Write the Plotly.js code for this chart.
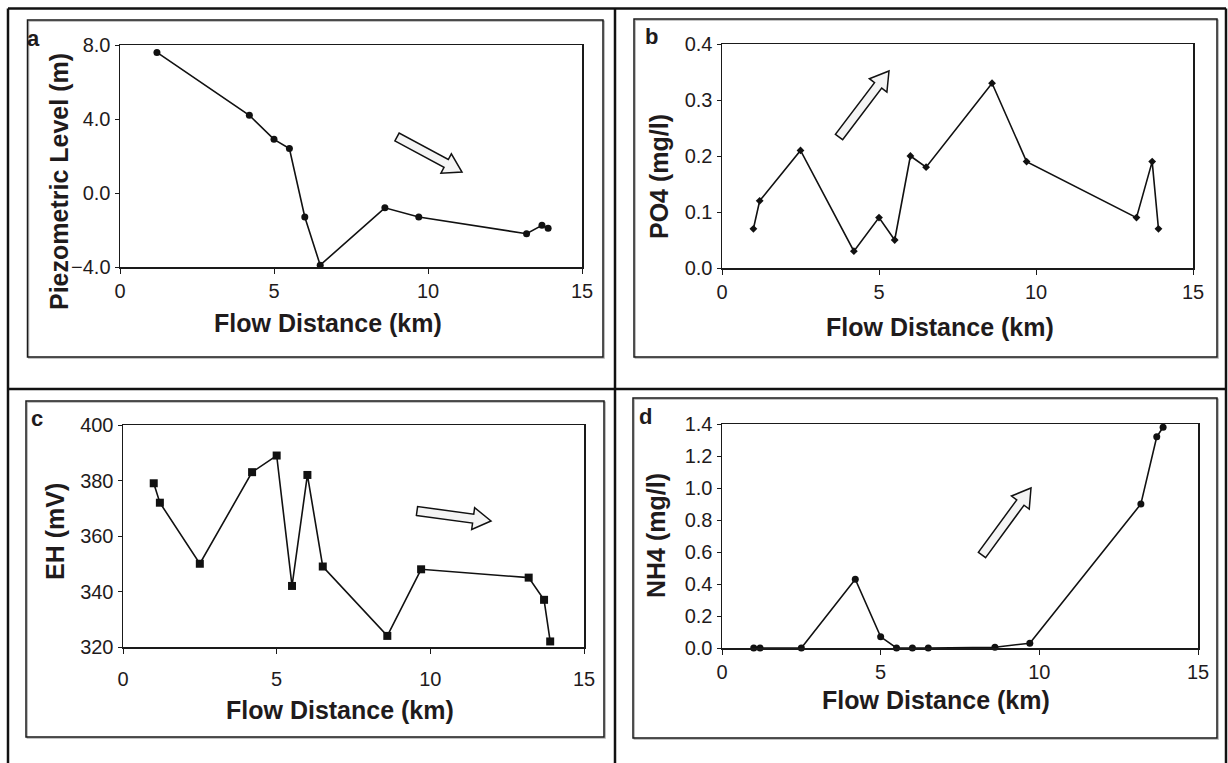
<!DOCTYPE html>
<html>
<head>
<meta charset="utf-8">
<script src="https://cdn.plot.ly/plotly-3.0.1.min.js"></script>
<style>
  html, body { margin: 0; padding: 0; background: #ffffff; }
  #chart { width: 1228px; height: 763px; }
</style>
</head>
<body>
<div id="chart"></div>
<script>
// ---- data ----
var distA = [1.2, 4.2, 5.0, 5.5, 6.0, 6.5, 8.6, 9.7, 13.2, 13.7, 13.9];
var piezo = [7.6, 4.2, 2.9, 2.4, -1.3, -3.9, -0.8, -1.3, -2.2, -1.75, -1.9];

var dist = [1.0, 1.2, 2.5, 4.2, 5.0, 5.5, 6.0, 6.5, 8.6, 9.7, 13.2, 13.7, 13.9];
var po4 = [0.07, 0.12, 0.21, 0.03, 0.09, 0.05, 0.20, 0.18, 0.33, 0.19, 0.09, 0.19, 0.07];
var eh  = [379, 372, 350, 383, 389, 342, 382, 349, 324, 348, 345, 337, 322];
var nh4 = [0, 0, 0, 0.43, 0.07, 0, 0, 0, 0.005, 0.03, 0.90, 1.32, 1.38];

var xTitle = "Flow Distance (km)";
var yTitles = ["Piezometric Level (m)", "PO4 (mg/l)", "EH (mV)", "NH4 (mg/l)"];
var panelLetters = ["a", "b", "c", "d"];

// ---- layout helpers ----
var W = 1228, H = 763;
function px(x) { return x / W; }
function py(y) { return 1 - y / H; }

var FONT = "Liberation Sans, Arial, Helvetica, sans-serif";
var TXT = "#1f1b1c";

function axisBase(extra) {
  var a = {
    showgrid: false, zeroline: false,
    showline: true, linecolor: "#1a1a1a", linewidth: 1.5, mirror: true,
    ticks: "outside", ticklen: 5, tickwidth: 1, tickcolor: "#1a1a1a",
    tickfont: { family: FONT, size: 20, color: TXT },
    fixedrange: true
  };
  for (var k in extra) a[k] = extra[k];
  return a;
}

function lineTrace(x, y, xa, ya, sym, size) {
  return {
    type: "scatter", mode: "lines+markers", x: x, y: y,
    xaxis: xa, yaxis: ya,
    line: { color: "#111111", width: 1.6 },
    marker: { symbol: sym, size: size, color: "#111111" },
    cliponaxis: false, hoverinfo: "x+y", showlegend: false
  };
}

var traces = [
  lineTrace(distA, piezo, "x", "y", "circle", 7),
  lineTrace(dist, po4, "x2", "y2", "diamond", 6),
  lineTrace(dist, eh, "x3", "y3", "square", 8),
  lineTrace(dist, nh4, "x4", "y4", "circle", 7)
];

// block arrow in pixel space -> paper path
function arrowPath(x0, y0, x1, y1, sw, hw, hl) {
  var dx = x1 - x0, dy = y1 - y0, L = Math.sqrt(dx * dx + dy * dy);
  var ux = dx / L, uy = dy / L, nx = -uy, ny = ux;
  var bx = x1 - ux * hl, by = y1 - uy * hl;
  var pts = [
    [x0 + nx * sw / 2, y0 + ny * sw / 2],
    [bx + nx * sw / 2, by + ny * sw / 2],
    [bx + nx * hw / 2, by + ny * hw / 2],
    [x1, y1],
    [bx - nx * hw / 2, by - ny * hw / 2],
    [bx - nx * sw / 2, by - ny * sw / 2],
    [x0 - nx * sw / 2, y0 - ny * sw / 2]
  ];
  return "M " + pts.map(function (p) { return px(p[0]).toFixed(5) + "," + py(p[1]).toFixed(5); }).join(" L ") + " Z";
}
function arrowShape(x0, y0, x1, y1) {
  return {
    type: "path", xref: "paper", yref: "paper",
    path: arrowPath(x0, y0, x1, y1, 9, 22, 18),
    fillcolor: "#f4f4f4", line: { color: "#111111", width: 1.5 }, layer: "above"
  };
}
function rectShape(x0, y0, x1, y1, color, width) {
  return {
    type: "rect", xref: "paper", yref: "paper",
    x0: px(x0), x1: px(x1), y0: py(y1), y1: py(y0),
    line: { color: color, width: width }, fillcolor: "rgba(0,0,0,0)", layer: "below"
  };
}
function lineShape(x0, y0, x1, y1, color, width) {
  return {
    type: "line", xref: "paper", yref: "paper",
    x0: px(x0), x1: px(x1), y0: py(y0), y1: py(y1),
    line: { color: color, width: width }, layer: "below"
  };
}

var frames = [[27.5, 20, 603, 357], [634, 19, 1217, 357], [26, 401, 604, 737], [633, 398, 1217, 738]];
var shapes = [];
// table grid
shapes.push(lineShape(8, 8.5, 1226, 8.5, "#111111", 2.5));
shapes.push(lineShape(8, 8.5, 8, 763, "#111111", 2.5));
shapes.push(lineShape(1226, 8.5, 1226, 763, "#111111", 2.5));
shapes.push(lineShape(615, 8.5, 615, 763, "#111111", 2.5));
shapes.push(lineShape(8, 389, 1226, 389, "#111111", 2.5));
// chart frames with slight shadow
frames.forEach(function (f) {
  shapes.push(rectShape(f[0] + 1.2, f[1] + 1.2, f[2] + 1.2, f[3] + 1.2, "#b0b0b0", 1.2));
  shapes.push(rectShape(f[0], f[1], f[2], f[3], "#1a1a1a", 1.5));
});
// flow arrows
shapes.push(arrowShape(397, 137, 462, 172));
shapes.push(arrowShape(839, 137, 889, 71));
shapes.push(arrowShape(417, 511, 491, 521));
shapes.push(arrowShape(982, 555, 1031, 488));

function ann(text, x, y, size, angle, bold) {
  return {
    text: bold ? "<b>" + text + "</b>" : text,
    xref: "paper", yref: "paper", x: px(x), y: py(y),
    xanchor: "center", yanchor: "middle", showarrow: false,
    textangle: angle || 0,
    font: { family: FONT, size: size, color: TXT }
  };
}

var annotations = [
  ann(panelLetters[0], 33, 38, 22, 0, true),
  ann(panelLetters[1], 651, 37, 22, 0, true),
  ann(panelLetters[2], 37, 418, 22, 0, true),
  ann(panelLetters[3], 645, 416, 22, 0, true),
  ann(yTitles[0], 59, 182, 25, -90, true),
  ann(yTitles[1], 659, 177, 25, -90, true),
  ann(yTitles[2], 55, 532, 25, -90, true),
  ann(yTitles[3], 656, 536, 25, -90, true),
  ann(xTitle, 328, 323, 25, 0, true),
  ann(xTitle, 940, 327, 25, 0, true),
  ann(xTitle, 340, 710, 25, 0, true),
  ann(xTitle, 936, 700, 25, 0, true)
];

var layout = {
  width: W, height: H,
  margin: { l: 0, r: 0, t: 0, b: 0 },
  paper_bgcolor: "#ffffff", plot_bgcolor: "#ffffff",
  showlegend: false,
  font: { family: FONT, color: TXT },
  xaxis:  axisBase({ domain: [px(120), px(582)], range: [0, 15], dtick: 5, tick0: 0, anchor: "y" }),
  yaxis:  axisBase({ domain: [py(267), py(45)], range: [-4, 8], dtick: 4, tick0: 0, tickformat: ".1f", ticklen: 4, anchor: "x" }),
  xaxis2: axisBase({ domain: [px(722), px(1193)], range: [0, 15], dtick: 5, tick0: 0, anchor: "y2" }),
  yaxis2: axisBase({ domain: [py(268), py(44)], range: [0, 0.4], dtick: 0.1, tick0: 0, tickformat: ".1f", ticklen: 4, anchor: "x2" }),
  xaxis3: axisBase({ domain: [px(123), px(584)], range: [0, 15], dtick: 5, tick0: 0, anchor: "y3", ticklabelstandoff: 8 }),
  yaxis3: axisBase({ domain: [py(647), py(425)], range: [320, 400], dtick: 20, tick0: 320, ticklen: 4, anchor: "x3" }),
  xaxis4: axisBase({ domain: [px(722), px(1198)], range: [0, 15], dtick: 5, tick0: 0, anchor: "y4" }),
  yaxis4: axisBase({ domain: [py(648), py(424)], range: [0, 1.4], dtick: 0.2, tick0: 0, tickformat: ".1f", ticklen: 4, anchor: "x4" }),
  shapes: shapes,
  annotations: annotations
};

Plotly.newPlot("chart", traces, layout, { displayModeBar: false, staticPlot: true });
</script>
</body>
</html>
